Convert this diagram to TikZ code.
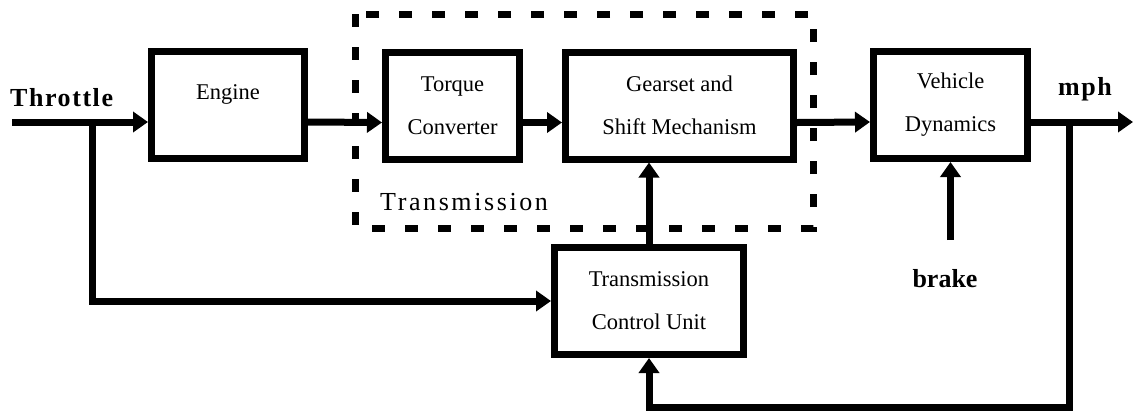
\documentclass[tikz,border=0pt]{standalone}
\usepackage{fontspec}
\setmainfont{Liberation Serif}
\usepackage{tikz}
\usetikzlibrary{arrows.meta,positioning}

\begin{document}
\begin{tikzpicture}[x=1pt,y=-1pt,
  box/.style={draw,line width=7pt,align=center,inner sep=0pt,font=\fontsize{22.5}{43}\selectfont,minimum height=107pt},
  arr/.style={-{Triangle[length=15pt,width=20pt]},line width=7pt},
  lbl/.style={inner sep=0pt,font=\fontsize{26}{30}\selectfont\bfseries}]
\useasboundingbox (0,0) rectangle (1134,413);
\draw[line width=7pt,dash pattern=on 13pt off 20pt] (355,14) rectangle (813,228);
\node[box,minimum width=153pt,text depth=26pt] (engine) at (228,105) {Engine};
\node[box,minimum width=134pt] (torque) at (452.5,105.5) {Torque\\Converter};
\node[box,minimum width=228pt] (gearset) at (679.5,105.5) {Gearset and\\Shift Mechanism};
\node[box,minimum width=154pt] (vehicle) at (950.5,105) {Vehicle\\Dynamics};
\node[box,minimum width=189pt] (tcu) at (649,301) {Transmission\\Control Unit};
\node[lbl,anchor=base west] (throttle) at (10,106) {\addfontfeature{LetterSpace=6}Throttle};
\node[lbl,anchor=base] (mph) at (1085,95) {\addfontfeature{LetterSpace=6}mph};
\node[lbl,anchor=base] (brake) at (945,287) {brake};
\node[inner sep=0pt,anchor=base west,font=\fontsize{26}{30}\selectfont] (trans) at (380,210) {\addfontfeature{LetterSpace=10}Transmission};
\coordinate (thr) at (12,122);
\coordinate (tap) at (92,122);
\coordinate (fb) at (1069,122);
\coordinate (fbc) at (1069,407);
\coordinate (out) at (1133,122);
\coordinate (brk) at (950.5,240);
\draw[arr] (thr)--([yshift=-17pt]engine.west);
\draw[arr] ([yshift=-17pt]engine.east)--([yshift=-17pt]torque.west);
\draw[arr] ([yshift=-17pt]torque.east)--([yshift=-17pt]gearset.west);
\draw[arr] ([yshift=-17pt]gearset.east)--([yshift=-17pt]vehicle.west);
\draw[arr] ([yshift=-17pt]vehicle.east)--(out);
\draw[arr] (tap) |- (tcu.west);
\draw[arr] (fb)--(fbc) -| (tcu.south);
\draw[arr] (tcu.north)--(tcu.north |- gearset.south);
\draw[arr] (brk)--(vehicle.south);
\end{tikzpicture}
\end{document}
